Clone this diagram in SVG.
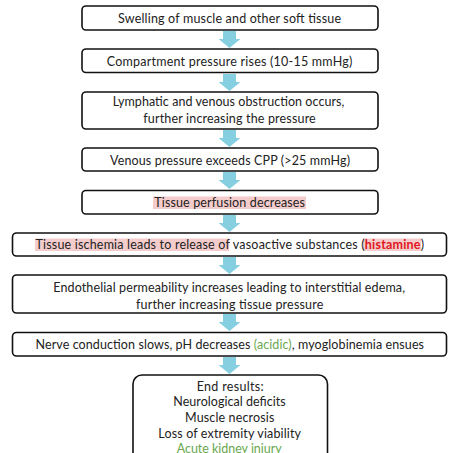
<svg xmlns="http://www.w3.org/2000/svg" width="450" height="453" viewBox="0 0 450 453">
<style>
.box{fill:#fff;stroke:#111;stroke-width:1.6}
.t{font-family:Lato,"Open Sans","Liberation Sans",sans-serif;font-size:12.5px;fill:#222}
.hl{fill:#f4cccc}
.red{fill:#e0161b;font-weight:bold}
.green{fill:#6aa84f}
.arr{fill:#86cfe1}
</style>
<defs>
<path id="arrow" class="arr" d="M-6.5,0 H6.5 V8 H11 L0,17 L-11,8 H-6.5 Z"/>
</defs>
<rect width="450" height="453" fill="#fff"/>
<g id="connectors">
<use href="#arrow" transform="translate(229.5,31)"/>
<use href="#arrow" transform="translate(229.5,74)"/>
<use href="#arrow" transform="translate(229.5,130)"/>
<use href="#arrow" transform="translate(229.5,172)"/>
<use href="#arrow" transform="translate(229.5,215)"/>
<use href="#arrow" transform="translate(229.5,257)"/>
<use href="#arrow" transform="translate(229.5,314)"/>
<use href="#arrow" transform="translate(229.5,357)"/>
</g>
<g id="n1">
<rect class="box" x="82" y="6" width="296" height="24" rx="4"/>
<text class="t" x="118" y="22.5" textLength="223" lengthAdjust="spacing">Swelling of muscle and other soft tissue</text>
</g>
<g id="n2">
<rect class="box" x="82" y="49" width="296" height="23.5" rx="4"/>
<text class="t" x="106.7" y="65.5" textLength="245.6" lengthAdjust="spacing">Compartment pressure rises (10-15 mmHg)</text>
</g>
<g id="n3">
<rect class="box" x="82" y="92" width="296" height="37" rx="4"/>
<text class="t" x="112.7" y="106" textLength="231.6" lengthAdjust="spacing">Lymphatic and venous obstruction occurs,</text>
<text class="t" x="143.3" y="122.5" textLength="172.4" lengthAdjust="spacing">further increasing the pressure</text>
</g>
<g id="n4">
<rect class="box" x="82" y="148" width="296" height="23" rx="4"/>
<text class="t" x="110" y="164.5" textLength="240" lengthAdjust="spacing">Venous pressure exceeds CPP (&gt;25 mmHg)</text>
</g>
<g id="n5">
<rect class="box" x="82" y="190.5" width="296" height="23.5" rx="4"/>
<rect class="hl" x="153" y="196.5" width="153" height="12.5"/>
<text class="t" x="154.3" y="206.5" textLength="150.7" lengthAdjust="spacing">Tissue perfusion decreases</text>
</g>
<g id="n6">
<rect class="box" x="12.5" y="233" width="434" height="23" rx="4"/>
<rect class="hl" x="35" y="238.5" width="194" height="12.5"/>
<rect class="hl" x="363" y="238.5" width="58" height="12.5"/>
<text class="t" x="35.5" y="249" textLength="388.5" lengthAdjust="spacing">Tissue ischemia leads to release of vasoactive substances (<tspan class="red">histamine</tspan>)</text>
</g>
<g id="n7">
<rect class="box" x="12.5" y="275" width="434" height="38" rx="4"/>
<text class="t" x="53.3" y="292" textLength="351.7" lengthAdjust="spacing">Endothelial permeability increases leading to interstitial edema,</text>
<text class="t" x="136" y="308.5" textLength="187.3" lengthAdjust="spacing">further increasing tissue pressure</text>
</g>
<g id="n8">
<rect class="box" x="12.5" y="332.5" width="434" height="23.5" rx="4"/>
<text class="t" x="35.5" y="349" textLength="388.5" lengthAdjust="spacing">Nerve conduction slows, pH decreases <tspan class="green">(acidic)</tspan>, myoglobinemia ensues</text>
</g>
<g id="n9">
<rect class="box" x="133" y="375" width="194.5" height="90" rx="9"/>
<text class="t" x="196.7" y="390.5" textLength="67" lengthAdjust="spacing">End results:</text>
<text class="t" x="173.3" y="406" textLength="112.4" lengthAdjust="spacing">Neurological deficits</text>
<text class="t" x="185" y="422" textLength="89.3" lengthAdjust="spacing">Muscle necrosis</text>
<text class="t" x="158.3" y="437.5" textLength="142.7" lengthAdjust="spacing">Loss of extremity viability</text>
<text class="t green" x="176.7" y="452.5" textLength="105" lengthAdjust="spacing">Acute kidney injury</text>
</g>
</svg>
